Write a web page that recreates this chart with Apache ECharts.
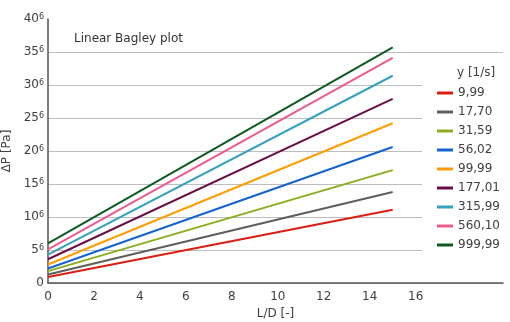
<!DOCTYPE html>
<html>
<head>
<meta charset="utf-8">
<script src="https://cdn.jsdelivr.net/npm/echarts@6/dist/echarts.min.js"></script>
<style>html,body{margin:0;padding:0;background:#fff}#c{width:510px;height:322px}</style>
</head>
<body>
<div id="c"></div>
<script>
var shearRates = ['9,99','17,70','31,59','56,02','99,99','177,01','315,99','560,10','999,99'];
var ldValues = [0, 15];
var dpAtStart = [0.9, 1.3, 1.8, 2.2, 2.8, 3.6, 4.3, 5.1, 6.0];
var dpAtEnd = [11.1, 13.8, 17.1, 20.6, 24.2, 27.9, 31.4, 34.1, 35.7];
var yTicks = [0, 5, 10, 15, 20, 25, 30, 35, 40];
var xTicks = [0, 2, 4, 6, 8, 10, 12, 14, 16];
var colors = ['#dd1d12', '#5e5e5e', '#8aae1c', '#1463cf', '#ff9d00', '#6a0f46', '#36a0bf', '#ec5a8e', '#0d5a1e'];

var font = 'DejaVu Sans';
var series = shearRates.map(function (name, i) {
  return {
    name: name,
    type: 'line',
    symbol: 'none',
    color: colors[i],
    lineStyle: { width: 2 },
    data: [[ldValues[0], dpAtStart[i]], [ldValues[1], dpAtEnd[i]]],
    z: 3
  };
});

var chart = echarts.init(document.getElementById('c'), null, { renderer: 'canvas' });
chart.setOption({
  animation: false,
  backgroundColor: '#fff',
  textStyle: { fontFamily: font },
  grid: { left: 48, right: 7, top: 19, bottom: 39, containLabel: false, outerBoundsMode: 'none' },
  xAxis: {
    type: 'value',
    min: 0, max: 19.8, interval: 2,
    name: 'L/D [-]', nameLocation: 'middle', nameGap: 24,
    nameTextStyle: { fontFamily: font, fontSize: 12, color: '#404040' },
    axisLine: { show: true, lineStyle: { color: '#555', width: 1.5 } },
    axisTick: { show: false },
    splitLine: { show: false },
    axisLabel: {
      fontFamily: font, fontSize: 12, color: '#404040', margin: 8,
      formatter: function (v) { return xTicks.indexOf(v) >= 0 ? String(v) : ''; }
    }
  },
  yAxis: {
    type: 'value',
    min: yTicks[0], max: yTicks[yTicks.length - 1], interval: 5,
    name: 'ΔP [Pa]', nameLocation: 'middle', nameGap: 30, nameRotate: 90,
    nameTextStyle: { fontFamily: font, fontSize: 12, color: '#404040' },
    axisLine: { show: true, lineStyle: { color: '#555', width: 1.5 } },
    axisTick: { show: false },
    splitLine: { show: true, showMaxLine: false, lineStyle: { color: '#bdbdbd', width: 1 } },
    axisLabel: {
      fontFamily: font, color: '#404040', margin: 4,
      formatter: function (v) { return v === 0 ? '{a|0}' : '{a|' + v + '}{b|6}'; },
      rich: {
        a: { fontFamily: font, fontSize: 12, color: '#404040' },
        b: { fontFamily: font, fontSize: 8, color: '#404040', verticalAlign: 'bottom', padding: [0, 0, 5, 0] }
      }
    }
  },
  legend: {
    orient: 'vertical',
    left: 422, top: 60,
    padding: [27, 12, 8, 15],
    backgroundColor: '#fff',
    icon: 'rect',
    itemWidth: 16, itemHeight: 3,
    itemGap: 7,
    textStyle: { fontFamily: font, fontSize: 12, color: '#404040' },
    data: shearRates
  },
  graphic: [
    { type: 'text', left: 74, top: 33, z: 100,
      style: { text: 'Linear Bagley plot', fontFamily: font, fontSize: 12, fill: '#333' } },
    { type: 'text', left: 457, top: 67, z: 100,
      style: { text: 'y [1/s]', fontFamily: font, fontSize: 12, fill: '#404040' } }
  ],
  series: series
});
</script>
</body>
</html>
